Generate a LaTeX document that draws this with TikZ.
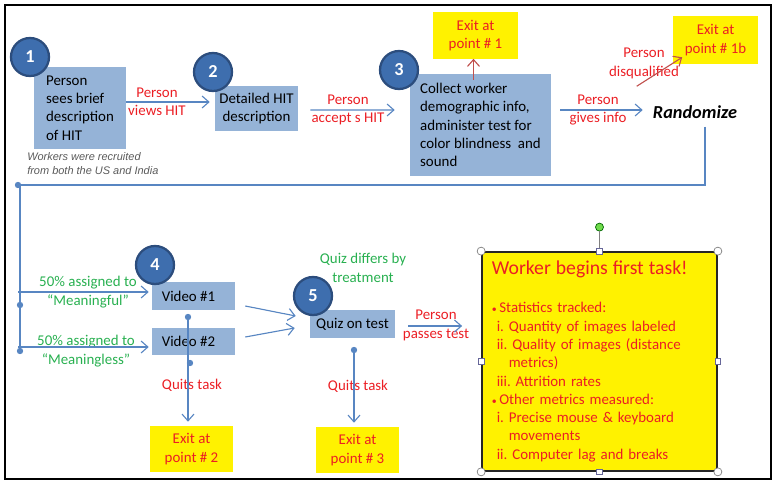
\documentclass[tikz,border=0pt]{standalone}
\usepackage{fontspec}
\setmainfont{Carlito}
\newfontfamily\notefont{Liberation Sans}
\usetikzlibrary{arrows.meta,positioning}
\definecolor{boxblue}{RGB}{149,179,215}
\definecolor{numblue}{RGB}{62,110,174}
\definecolor{numedge}{RGB}{44,77,125}
\definecolor{lineblue}{RGB}{88,134,194}
\definecolor{txtred}{RGB}{235,30,36}
\definecolor{txtgreen}{RGB}{40,176,80}
\definecolor{exitred}{RGB}{192,80,77}
\definecolor{notegray}{RGB}{90,90,90}
\tikzset{every picture/.style={/utils/exec={\frenchspacing\fontsize{10.6}{13}\selectfont}}}
\tikzset{
  stepbox/.style={fill=boxblue, inner sep=0pt, align=left},
  exitbox/.style={fill=yellow, text=txtred, align=center, inner sep=0pt,
    minimum width=2.1cm, minimum height=1.15cm},
  num/.style={circle, fill=numblue, draw=numedge, line width=1.6pt,
    minimum size=0.95cm, inner sep=0pt, text=white,
    font=\bfseries\fontsize{13}{15}\selectfont},
  redlbl/.style={text=txtred, align=center, inner sep=0pt},
  greenlbl/.style={text=txtgreen, align=center, inner sep=0pt},
  dot/.style={circle, fill=lineblue, inner sep=0pt, minimum size=0.16cm},
  flow/.style={draw=lineblue, line width=0.8pt, -{Straight Barb[length=1.7mm,width=3mm]}},
  exitflow/.style={draw=exitred, line width=0.8pt, -{Straight Barb[length=1.7mm,width=3mm]}},
  link/.style={draw=lineblue, line width=0.8pt},
  taskbox/.style={fill=yellow, draw=black!85, line width=1.2pt, text=txtred, align=left,
    text width=5.375cm, inner xsep=0.25cm, inner ysep=0pt, minimum height=5.475cm},
  cornerhandle/.style={circle, fill=white, draw=gray, line width=0.5pt, inner sep=0pt, minimum size=0.2cm},
  sidehandle/.style={rectangle, fill=white, draw=gray!80!blue, line width=0.5pt, inner sep=0pt, minimum size=0.14cm},
  rothandle/.style={circle, fill=green!60!olive!70, draw=green!40!black, line width=0.5pt, inner sep=0pt, minimum size=0.2cm}
}

\begin{document}
\begin{tikzpicture}[x=0.025cm, y=-0.025cm]
  \useasboundingbox (0,0) rectangle (777,484);
  \draw[line width=0.8pt] (5,5) rectangle (771,479);

  \node[stepbox, minimum width=2.3cm, minimum height=2.05cm] (seebrief) at (80,108)
    {Person\\sees brief\\description\\of HIT};
  \node[stepbox, align=center, minimum width=2.075cm, minimum height=1.125cm] (detail) at (256.5,108.5)
    {Detailed HIT\\description};
  \node[stepbox, minimum width=3.525cm, minimum height=2.55cm] (collect) at (480.5,125)
    {Collect worker\\demographic info,\\administer test for\\color blindness\ \ and\\sound};
  \node[font=\bfseries\itshape\fontsize{13}{15}\selectfont] (randomize) at (695,112) {Randomize};
  \node[exitbox] (exit1) at (475.5,35.5) {Exit at\\point \# 1};
  \node[exitbox, minimum height=1.175cm] (exit1b) at (715.5,40) {Exit at\\point \# 1b};

  \node[anchor=west, align=left, inner sep=0pt, text=notegray,
    font=\notefont\itshape\fontsize{7.8}{9.5}\selectfont] (recruit) at (27,163.5)
    {Workers\ were\ recruited\\from both the US and India};

  \node[stepbox, align=center, minimum width=2.075cm, minimum height=0.7cm] (video1) at (193.5,296) {Video \#1\hspace*{0.25cm}};
  \node[stepbox, align=center, minimum width=2.075cm, minimum height=0.675cm] (video2) at (193.5,341.5) {Video \#2\hspace*{0.25cm}};
  \node[stepbox, align=center, minimum width=2.125cm, minimum height=0.7cm] (quiz) at (352.5,324) {Quiz on test};
  \node[exitbox, minimum width=2.075cm] (exit2) at (191.5,449) {Exit at\\point \# 2};
  \node[exitbox, minimum width=2.075cm] (exit3) at (357.5,450) {Exit at\\point \# 3};

  \node[taskbox] (task) at (599.5,361.5)
    {{\fontsize{14}{17}\selectfont Worker begins first task!}\\[14pt]
     {\scriptsize\textbullet}\,Statistics tracked:\\
     \hspace*{0.12cm}i. Quantity of images labeled\\
     \hspace*{0.12cm}ii. Quality of images (distance\\
     \hspace*{0.42cm}metrics)\\
     \hspace*{0.12cm}iii. Attrition rates\\
     {\scriptsize\textbullet}\,Other metrics measured:\\
     \hspace*{0.12cm}i. Precise mouse \& keyboard\\
     \hspace*{0.42cm}movements\\
     \hspace*{0.12cm}ii. Computer lag and breaks};

  \node[redlbl] (viewlbl) at (157,101.5) {Person\\views HIT};
  \node[redlbl] (acceptlbl) at (348,110) {Person\\accept s HIT};
  \node[redlbl] (giveslbl) at (598,110) {Person\\gives info};
  \node[redlbl] (disqlbl) at (644,63.5) {Person\\disqualified};
  \node[redlbl] (quitlbl1) at (192,385) {Quits task};
  \node[redlbl] (quitlbl2) at (358,386) {Quits task};
  \node[redlbl] (passlbl) at (436,325.5) {Person\\passes test};
  \node[greenlbl] (meanlbl1) at (88,292) {50\% assigned to\\“Meaningful”};
  \node[greenlbl] (meanlbl2) at (86,351) {50\% assigned to\\“Meaningless”};
  \node[greenlbl] (quizlbl) at (363,268) {Quiz differs by\\treatment};

  \draw[flow] ([shift={(0,-6)}]seebrief.east) -- ([shift={(-5,-6.5)}]detail.west);
  \draw[flow] ([shift={(12,1.5)}]detail.east) -- ([shift={(-15,-15)}]collect.west);
  \draw[flow] ([shift={(9,-15)}]collect.east) -- ([shift={(-5,-2)}]randomize.west);
  \draw[exitflow] (exit1.south |- collect.north) ++(-2,6) -- ([shift={(-2,0)}]exit1.south);
  \draw[exitflow] ([shift={(-11,-14)}]randomize.north west) -- ([shift={(9,-6.5)}]exit1b.south west);

  \node[dot] (splitdot) at (18,185) {};
  \node[dot] (middot) at (20,305) {};
  \node[dot] (lowdot) at (20,351) {};
  \coordinate (v1end) at ([shift={(-3,-4)}]video1.west);
  \coordinate (v2end) at ([shift={(-3,5.5)}]video2.west);
  \draw[link] ([shift={(10,3)}]randomize.south) |- (splitdot.center) -- (lowdot.center |- splitdot.center) -- (lowdot.center);
  \draw[flow] (splitdot.center |- v1end) -- (v1end);
  \draw[flow] (splitdot.center |- v2end) -- (v2end);

  \node[dot] (quitdot1) at (188,317) {};
  \node[dot] (quitdot2) at (190,363) {};
  \node[dot] (quitdot3) at (354,350) {};
  \draw[flow, shorten >=0.1cm] (quitdot1.center) -- (quitdot1.center |- exit2.north);
  \draw[flow, shorten >=0.1cm] (quitdot3.center) -- (quitdot3.center |- exit3.north);

  \draw[flow] ([shift={(10,10)}]video1.east) -- ([shift={(-14,-8)}]quiz.west);
  \draw[flow] ([shift={(10,-4.5)}]video2.east) -- ([shift={(-15,4)}]quiz.west);
  \draw[flow] ([shift={(13,2)}]quiz.east) -- ([shift={(-19,-35.5)}]task.west);

  \foreach \n/\x/\y in {1/30/57, 2/213/72, 3/399/70, 4/155/265, 5/313/296}
    \node[num] (num\n) at (\x,\y) {\n};

  \node[rothandle] (rot) at ([shift={(0,-24)}]task.north) {};
  \draw[gray, line width=0.6pt] (rot) -- (task.north);
  \foreach \a [count=\i] in {north west, north east, south west, south east}
    \node[cornerhandle] (corner\i) at (task.\a) {};
  \foreach \a [count=\i] in {north, south, east, west}
    \node[sidehandle] (side\i) at (task.\a) {};
\end{tikzpicture}
\end{document}
